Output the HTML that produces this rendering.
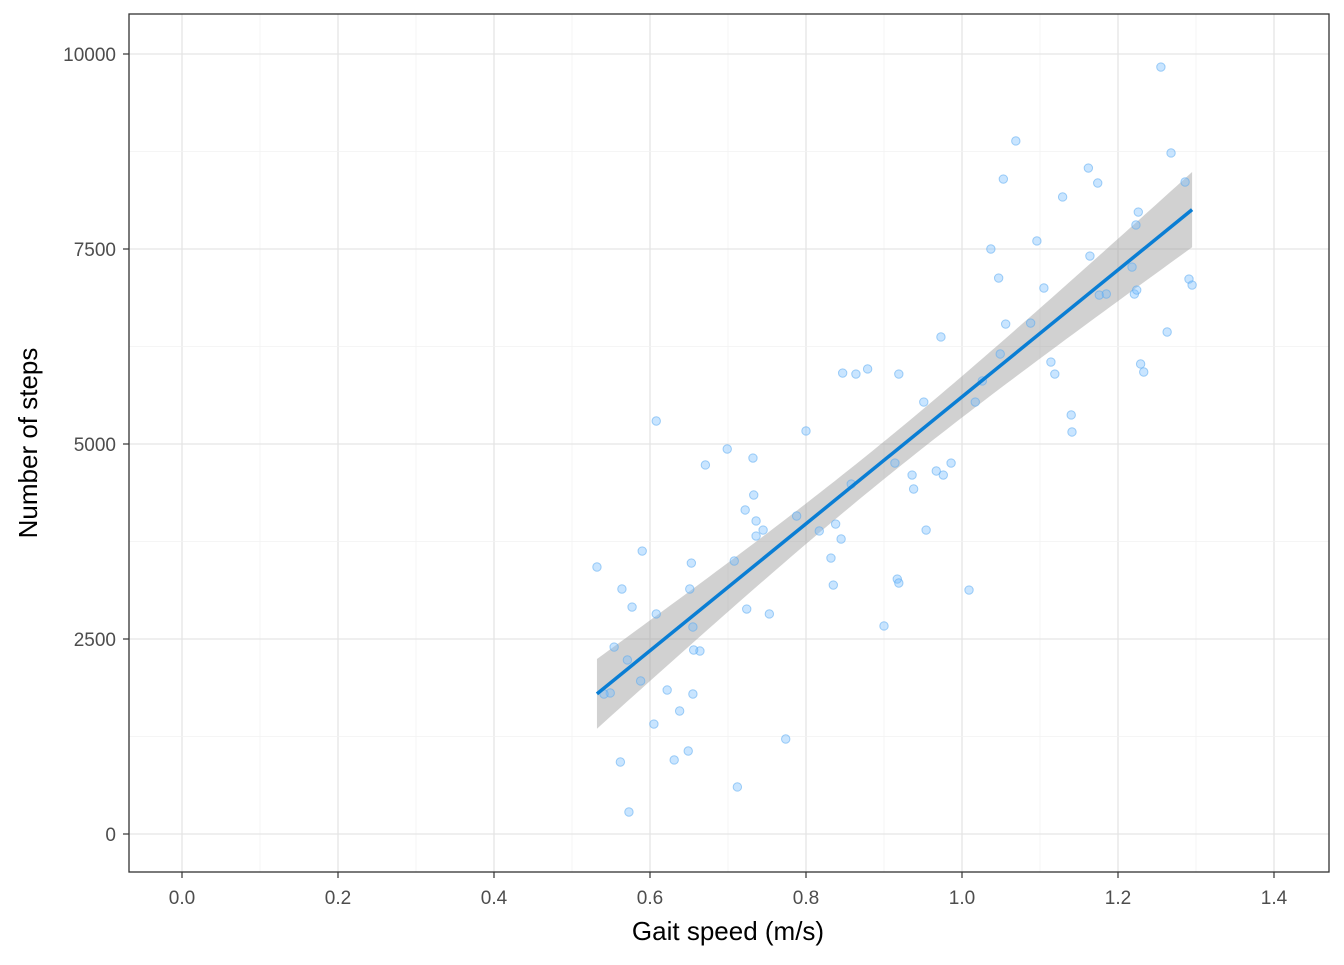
<!DOCTYPE html>
<html><head><meta charset="utf-8"><style>
body{margin:0;background:#fff}
svg{font-family:"Liberation Sans",Arial,sans-serif}
</style></head><body>
<svg id="chart" width="1344" height="960">
<rect x="0" y="0" width="1344" height="960" fill="#fff"/>
<g id="grid"></g>
<g id="band"></g>
<g id="pts"></g>
<g id="fit"></g>
<rect x="129" y="14" width="1200" height="858" fill="none" stroke="#333" stroke-width="1.3"/>
<g id="axes"></g>
<text x="728" y="940" font-size="26" text-anchor="middle" fill="#000">Gait speed (m/s)</text>
<text transform="translate(37,443) rotate(-90)" font-size="26" text-anchor="middle" fill="#000">Number of steps</text>
</svg>
<script>
const xTicks=[0,0.2,0.4,0.6,0.8,1.0,1.2,1.4];
const xTickLabels=["0.0","0.2","0.4","0.6","0.8","1.0","1.2","1.4"];
const yTicks=[0,2500,5000,7500,10000];
const yTickLabels=["0","2500","5000","7500","10000"];
const gaitSpeed=[0.532,0.554,0.549,0.564,0.571,0.577,0.590,0.588,0.608,0.608,0.541,0.622,0.638,0.605,0.653,0.651,0.655,0.664,0.656,0.655,0.631,0.649,0.562,0.573,0.671,0.699,0.732,0.708,0.724,0.722,0.733,0.736,0.736,0.745,0.753,0.774,0.712,0.788,0.800,0.817,0.838,0.832,0.835,0.845,0.858,0.847,0.864,0.879,0.919,0.914,0.900,0.917,0.919,0.936,0.938,0.951,0.954,0.967,0.976,0.986,0.973,1.009,1.017,1.026,1.037,1.047,1.053,1.056,1.049,1.069,1.088,1.096,1.105,1.114,1.119,1.129,1.140,1.141,1.162,1.164,1.174,1.176,1.185,1.218,1.221,1.226,1.223,1.224,1.229,1.233,1.255,1.268,1.263,1.286,1.291,1.295];
const steps=[3423,2397,1808,3141,2231,2910,3628,1962,5295,2821,1795,1846,1577,1410,3474,3141,2654,2346,2359,1795,949,1064,923,282,4731,4936,4820,3500,2884,4154,4346,4013,3820,3897,2821,1218,603,4077,5167,3885,3974,3538,3192,3782,4487,3910,3897,5962,5897,4756,2667,3269,3218,4602,4423,5538,3897,4654,4602,4756,6372,3128,5538,5808,7500,7128,8397,6538,6154,8885,6551,7603,7000,6051,5897,8167,5372,5154,8538,7410,8346,6910,6923,7269,6923,7974,7808,6974,6026,5923,9833,8731,6436,8359,7115,7038];
// fix a couple of points from picture
steps[45]=5910;steps[46]=5897;
const NS="http://www.w3.org/2000/svg";
const sx=v=>182+780*v, sy=v=>834-0.078*v;
function mk(p,t,a){const e=document.createElementNS(NS,t);for(const k in a)e.setAttribute(k,a[k]);p.appendChild(e);return e;}
const grid=document.getElementById('grid'),axes=document.getElementById('axes');
for(let i=0;i<xTicks.length;i++){
 const x=sx(xTicks[i]);
 const l=mk(grid,'line',{x1:x,x2:x,y1:14,y2:872,stroke:'#e5e5e5','stroke-width':1.3});
 
 
 if(i<xTicks.length-1){const xm=sx((xTicks[i]+xTicks[i+1])/2);
  const m=mk(grid,'line',{x1:xm,x2:xm,y1:14,y2:872,stroke:'#f2f2f2','stroke-width':0.8});
  
  }
 const tk=mk(axes,'line',{x1:x,x2:x,y1:872,y2:878,stroke:'#333','stroke-width':1.2});
 
 
 const t=mk(axes,'text',{x:x,y:904,'font-size':19,'text-anchor':'middle',fill:'#4d4d4d'});
 t.textContent=xTickLabels[i];
 
 
}
for(let i=0;i<yTicks.length;i++){
 const y=sy(yTicks[i]);
 const l=mk(grid,'line',{x1:129,x2:1329,y1:y,y2:y,stroke:'#e5e5e5','stroke-width':1.3});
 
 
 if(i<yTicks.length-1){const ym=sy((yTicks[i]+yTicks[i+1])/2);
  const m=mk(grid,'line',{x1:129,x2:1329,y1:ym,y2:ym,stroke:'#f2f2f2','stroke-width':0.8});
  
  }
 const tk=mk(axes,'line',{x1:123,x2:129,y1:y,y2:y,stroke:'#333','stroke-width':1.2});
 
 
 const t=mk(axes,'text',{x:116,y:y+7,'font-size':19,'text-anchor':'end',fill:'#4d4d4d'});
 t.textContent=yTickLabels[i];
 
 
}
const pts=document.getElementById('pts');
for(let i=0;i<gaitSpeed.length;i++){
 const c=mk(pts,'circle',{cx:sx(gaitSpeed[i]),cy:sy(steps[i]),r:4.2,fill:'rgba(120,190,255,0.4)',stroke:'rgba(90,170,240,0.55)','stroke-width':1});
 
 
}
// linear fit + 95% CI
const n=gaitSpeed.length;
const mx=gaitSpeed.reduce((a,b)=>a+b)/n, my=steps.reduce((a,b)=>a+b)/n;
let sxx=0,sxy=0;for(let i=0;i<n;i++){sxx+=(gaitSpeed[i]-mx)**2;sxy+=(gaitSpeed[i]-mx)*(steps[i]-my);}
const b=sxy/sxx,a=my-b*mx;
let sse=0;for(let i=0;i<n;i++)sse+=(steps[i]-a-b*gaitSpeed[i])**2;
const s=Math.sqrt(sse/(n-2));
const x0=Math.min(...gaitSpeed),x1=Math.max(...gaitSpeed);
let up=[],lo=[];
for(let k=0;k<=80;k++){const x=x0+(x1-x0)*k/80,yh=a+b*x,se=1.985*s*Math.sqrt(1/n+(x-mx)**2/sxx);
 up.push(sx(x)+','+sy(yh+se));lo.unshift(sx(x)+','+sy(yh-se));}
const band=mk(document.getElementById('band'),'polygon',{points:up.concat(lo).join(' '),fill:'rgba(153,153,153,0.45)'});


const fl=mk(document.getElementById('fit'),'line',{x1:sx(x0),y1:sy(a+b*x0),x2:sx(x1),y2:sy(a+b*x1),stroke:'#0a7ed4','stroke-width':3.5});


</script>
</body></html>
